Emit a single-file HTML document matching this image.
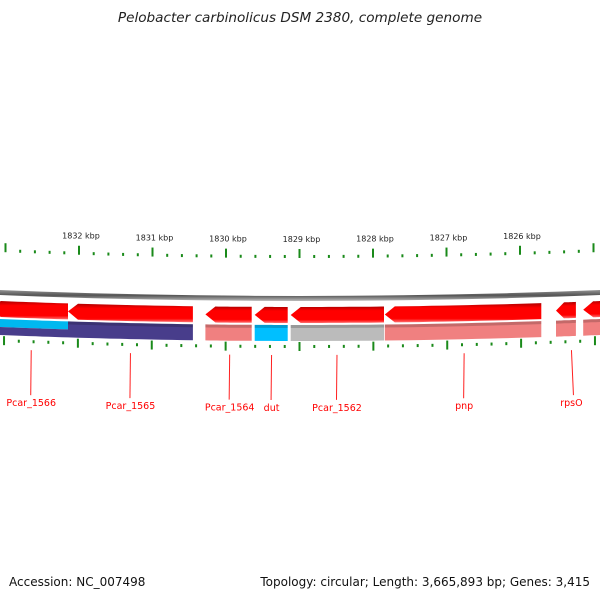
<!DOCTYPE html>
<html><head><meta charset="utf-8"><style>
body{margin:0;background:#fff}
svg{display:block}
text{font-family:"DejaVu Sans","Liberation Sans",sans-serif}
</style></head><body>
<svg id="chart" width="600" height="600" viewBox="0 0 600 600">
<defs>
<linearGradient id="gRed" x1="0" y1="0" x2="0" y2="1"><stop offset="0" stop-color="#b00000"/><stop offset="0.25" stop-color="#ff0000"/><stop offset="0.8" stop-color="#ff0000"/><stop offset="1" stop-color="#ff7070"/></linearGradient>
<linearGradient id="gBack" x1="0" y1="0" x2="0" y2="1"><stop offset="0" stop-color="#999"/><stop offset="0.5" stop-color="#555"/><stop offset="1" stop-color="#bbb"/></linearGradient>
</defs>
<text x="300" y="22" text-anchor="middle" font-size="13.6" font-style="italic" fill="#222">Pelobacter carbinolicus DSM 2380, complete genome</text>
<text x="9" y="586" font-size="12" fill="#111">Accession: NC_007498</text>
<text x="590" y="586" font-size="12" fill="#111" text-anchor="end">Topology: circular; Length: 3,665,893 bp; Genes: 3,415</text>
<g id="plot"></g>
</svg>
<script>
const tickKbp = [1833, 1832, 1831, 1830, 1829, 1828, 1827, 1826, 1825];
const tickLabels = ["1833 kbp","1832 kbp","1831 kbp","1830 kbp","1829 kbp","1828 kbp","1827 kbp","1826 kbp","1825 kbp"];
const geneNames = ["Pcar_1566","Pcar_1565","Pcar_1564","dut","Pcar_1562","pnp","rpsO","next-gene"];
const geneStart = [1833.2, 1832.15, 1830.28, 1829.61, 1829.12, 1827.84, 1825.51, 1825.14];
const geneEnd = [1832.15, 1830.45, 1829.65, 1829.16, 1827.85, 1825.71, 1825.24, 1824.8];
const geneColors = ["#00b8f0","#483d8b","#f08080","#00bfff","#bbbbbb","#f08080","#f08080","#f08080"];
const labelKbp = [1832.65, 1831.3, 1829.95, 1829.38, 1828.49, 1826.76, 1825.3];

const NS = "http://www.w3.org/2000/svg";
const plot = document.getElementById('plot');
const xOf = k => 79 + (1832 - k) * 73.5;
const dy = x => -((x - 300) * (x - 300)) / 15000;
function el(tag, attrs) { const e = document.createElementNS(NS, tag); for (const k in attrs) e.setAttribute(k, attrs[k]); plot.appendChild(e); return e; }
function band(x1, x2, y1, y2, headLeft) {
  const pts = []; const n = 12; const a = Math.min(x1, x2), b = Math.max(x1, x2);
  const h = headLeft ? Math.min(10, (b - a) * 0.4) : 0;
  for (let i = 0; i <= n; i++) { const x = a + h + (b - a - h) * i / n; pts.push([x, y1 + dy(x)]); }
  for (let i = n; i >= 0; i--) { const x = a + h + (b - a - h) * i / n; pts.push([x, y2 + dy(x)]); }
  if (headLeft) pts.push([a, (y1 + y2) / 2 + dy(a)]);
  return pts.map(p => p[0].toFixed(1) + ',' + p[1].toFixed(1)).join(' ');
}
const bb = el('polygon', { points: band(-10, 610, 296, 301, false), fill: 'url(#gBack)' });


for (let k = 1833.2; k >= 1824.8; k -= 0.2) {
  const kk = Math.round(k * 5) / 5;
  const x = xOf(kk); if (x < 0 || x > 600) continue;
  const major = Math.abs(kk - Math.round(kk)) < 0.01;
  const t1 = el('rect', { x: x - 1, y: (major ? 244 : 250) + dy(x) + 5, width: 2, height: major ? 9 : 3, fill: '#1a8a1a' });
  
  
  const xl = 300 + (x - 300) * 1.005;
  const t2 = el('rect', { x: xl - 1, y: (major ? 337 : 340) + dy(xl) + 5, width: 2, height: major ? 9 : 3, fill: '#1a8a1a' });
  
  
}
tickKbp.forEach((k, i) => {
  const x = xOf(k); if (x < 20 || x > 580) return;
  const t = el('text', { x: x + 2, y: 240 + dy(x) + 2, 'font-size': 8, 'text-anchor': 'middle', fill: '#222' });
  t.textContent = tickLabels[i];
  
  
});
geneNames.forEach((g, i) => {
  const x1 = xOf(geneStart[i]), x2 = xOf(geneEnd[i]);
  const a = el('polygon', { points: band(x1, x2, 307, 323, true), fill: 'url(#gRed)' });
  
  
  if (i === 0) {
    const c1 = el('polygon', { points: band(x1, x2, 325, 333, false), fill: '#00b8f0' });
    
    
    const c2 = el('polygon', { points: band(x1, x2, 333, 341, false), fill: '#483d8b' });
    
    
  } else {
    const c = el('polygon', { points: band(x1, x2, 325, 341, false), fill: geneColors[i] });
    
    
    const s = el('polygon', { points: band(x1, x2, 325, 328, false), fill: '#000', 'fill-opacity': 0.18 });
    
    
  }
});
labelKbp.forEach((k, i) => {
  const x = xOf(k);
  const l = el('line', { x1: x, y1: 355 + dy(x), x2: x - (i === 6 ? -2 : 0.5), y2: 400 + dy(x), stroke: '#ff2020', 'stroke-width': 1 });
  
  
  const t = el('text', { x: x, y: 411 + dy(x), 'font-size': 9.5, 'text-anchor': 'middle', fill: '#ff0000' });
  t.textContent = geneNames[i];
  
  
});
</script>
</body></html>
